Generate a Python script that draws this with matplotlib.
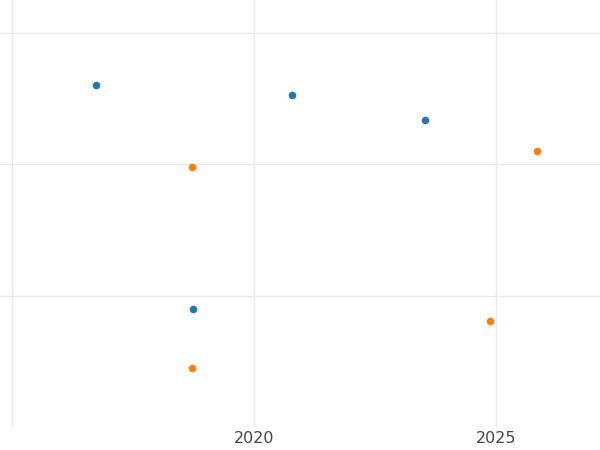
import matplotlib.pyplot as plt

blue_x = [2016.73, 2020.79, 2023.53, 2018.74]
blue_y = [2.60, 2.53, 2.34, 0.90]
orange_x = [2018.72, 2025.85, 2024.88, 2018.72]
orange_y = [1.98, 2.10, 0.81, 0.45]
x_ticks = [2015, 2020, 2025]
x_labels = ["", "2020", "2025"]
y_ticks = [1, 2, 3]

fig = plt.figure(figsize=(6, 4.5), dpi=100)
ax = fig.add_axes([0, 23 / 450, 1, 427 / 450])

ax.scatter(blue_x, blue_y, s=30, color="#1f77b4", zorder=3, linewidths=0)
ax.scatter(orange_x, orange_y, s=30, color="#ff7f0e", zorder=3, linewidths=0)

ax.set_xlim(2014.75, 2027.15)
ax.set_ylim(0, 3.25)
ax.set_xticks(x_ticks)
ax.set_xticklabels(x_labels)
ax.set_yticks(y_ticks)
ax.set_yticklabels([])
ax.tick_params(length=0, labelsize=11.5, labelcolor="#444444", pad=3)
ax.grid(True, color="#e8e8e8", linewidth=1)
ax.set_axisbelow(True)
for s in ax.spines.values():
    s.set_visible(False)

fig.savefig("out.png")
